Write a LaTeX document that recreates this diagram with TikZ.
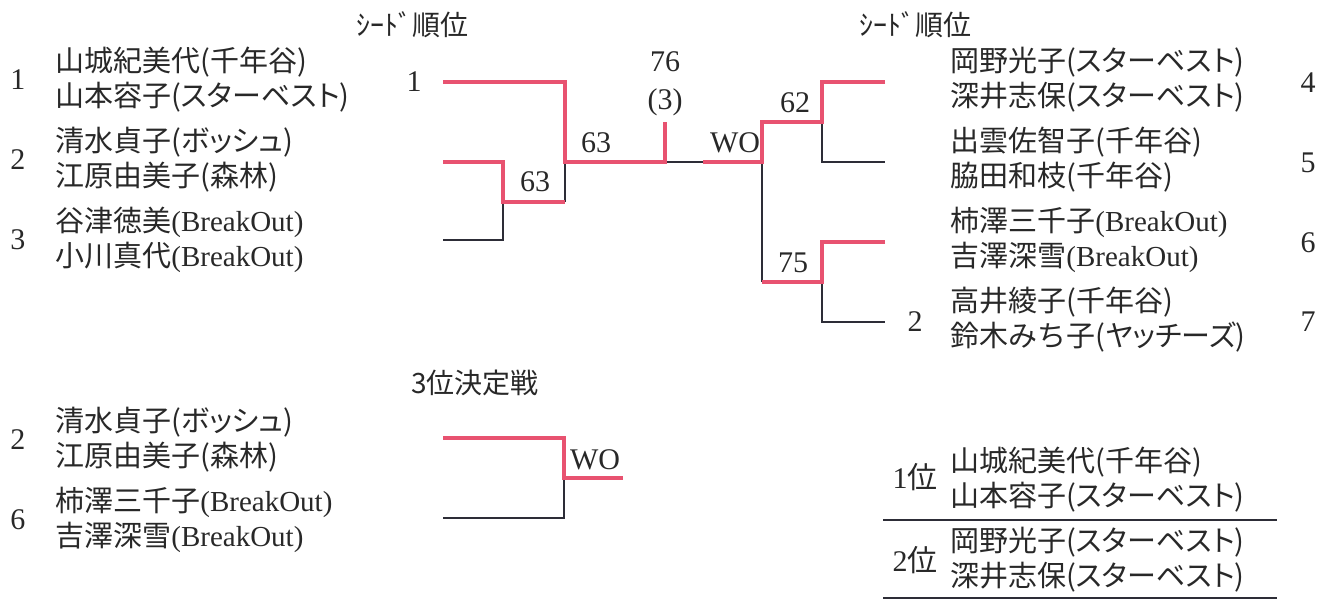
\documentclass[tikz,border=0pt]{standalone}
\usepackage{fontspec}
\setmainfont{Liberation Serif}
\newfontfamily\jp{Noto Sans CJK JP}
\newfontfamily\kana[RawFeature=+palt]{Noto Sans CJK JP}
\usetikzlibrary{positioning}
\definecolor{winred}{RGB}{232,82,112}
\definecolor{loseline}{RGB}{45,45,55}
\definecolor{inkgray}{RGB}{40,40,40}

\begin{document}
\begin{tikzpicture}[x=0.5pt,y=-0.5pt,
  win/.style={winred, line width=2pt},
  lose/.style={loseline, line width=1.1pt},
  rule/.style={loseline, line width=1.3pt},
  pair/.style={anchor=west, align=left, inner sep=0pt, text=inkgray,
    font=\jp\fontsize{14.5}{17.5}\selectfont},
  seed/.style={inner sep=0pt, text=inkgray, font=\fontsize{15}{16}\selectfont},
  score/.style={inner sep=0pt, text=inkgray, font=\fontsize{15}{16}\selectfont},
  title/.style={inner sep=0pt, text=inkgray, font=\jp\fontsize{14}{16}\selectfont}]
\useasboundingbox (0,0) rectangle (1320,600);
% Titles
\node[title] (seedL) at (412,25) {ｼｰﾄﾞ順位};
\node[title] (seedR) at (915,25) {ｼｰﾄﾞ順位};
\node[title] (third) at (475,383) {3位決定戦};
% Left pairs
\foreach \n/\y in {1/80, 2/160, 3/240}
  \node[seed] (ls\n) at (18,\y) {\n};
\node[pair] (lp1) at (55,80) {山城紀美代(千年谷)\\山本容子({\kana スターベスト})};
\node[pair] (lp2) at (55,160) {清水貞子({\kana ボッシュ})\\江原由美子(森林)};
\node[pair] (lp3) at (55,240) {谷津徳美{\rmfamily(BreakOut)}\\小川真代{\rmfamily(BreakOut)}};
% Right pairs
\foreach \n/\y in {4/83, 5/163, 6/243, 7/322}
  \node[seed] (rs\n) at (1308,\y) {\n};
\node[pair] (rp4) at (950,80) {岡野光子({\kana スターベスト})\\深井志保({\kana スターベスト})};
\node[pair] (rp5) at (950,160) {出雲佐智子(千年谷)\\脇田和枝(千年谷)};
\node[pair] (rp6) at (950,240) {柿澤三千子{\rmfamily(BreakOut)}\\吉澤深雪{\rmfamily(BreakOut)}};
\node[pair] (rp7) at (950,320) {高井綾子(千年谷)\\鈴木みち子({\kana ヤッチーズ})};
% Bracket points, left half
\coordinate (a1) at (443,82);
\coordinate (a2) at (443,162);
\coordinate (a3) at (443,240);
\coordinate (q2) at (503,162);
\coordinate (q3) at (503,240);
\coordinate (q23) at (503,202);
\coordinate (p1) at (565,82);
\coordinate (p23) at (565,202);
\coordinate (pL) at (565,162);
\coordinate (fL) at (665,162);
\coordinate (fT) at (665,122);
\coordinate (fR) at (703,162);
% Bracket points, right half
\coordinate (b4) at (885,82);
\coordinate (b5) at (885,162);
\coordinate (b6) at (885,242);
\coordinate (b7) at (885,322);
\coordinate (m4) at (822,82);
\coordinate (m45) at (822,122);
\coordinate (m5) at (822,162);
\coordinate (m6) at (822,242);
\coordinate (m67) at (822,282);
\coordinate (m7) at (822,322);
\coordinate (s45) at (762,122);
\coordinate (sR) at (762,162);
\coordinate (s67) at (762,282);
% Losing lines
\draw[lose] (a3) -- (q3) -- (q23);
\draw[lose] (p23) -- (pL);
\draw[lose] (fL) -- (fR);
\draw[lose] (m45) -- (m5) -- (b5);
\draw[lose] (sR) -- (s67);
\draw[lose] (m67) -- (m7) -- (b7);
% Winning lines
\draw[win] (a1) -- (p1) -- (pL) -- (fL) -- (fT);
\draw[win] (a2) -- (q2) -- (q23) -- (p23);
\draw[win] (b4) -- (m4) -- (m45) -- (s45) -- (sR) -- (fR);
\draw[win] (b6) -- (m6) -- (m67) -- (s67);
% Scores
\node[seed] (top1) at (414,82) {1};
\node[seed] (top2) at (915,322) {2};
\node[score] (sc63a) at (596,143) {63};
\node[score] (sc63b) at (535,182) {63};
\node[score] (sc76) at (665,62) {76};
\node[score] (sc3) at (665,102) {(3)};
\node[score] (scwo) at (735,143) {WO};
\node[score] (sc62) at (795,103) {62};
\node[score] (sc75) at (793,263) {75};
% 3rd place match
\node[seed] (ts2) at (18,440) {2};
\node[seed] (ts6) at (18,520) {6};
\node[pair] (tp2) at (55,440) {清水貞子({\kana ボッシュ})\\江原由美子(森林)};
\node[pair] (tp6) at (55,520) {柿澤三千子{\rmfamily(BreakOut)}\\吉澤深雪{\rmfamily(BreakOut)}};
\coordinate (t2) at (443,438);
\coordinate (t6) at (443,518);
\coordinate (u2) at (564,438);
\coordinate (u6) at (564,518);
\coordinate (uw) at (564,478);
\coordinate (uend) at (623,478);
\draw[lose] (t6) -- (u6) -- (uw);
\draw[win] (t2) -- (u2) -- (uw) -- (uend);
\node[score] (scwo3) at (595,460) {WO};
% Final standings
\node[seed] (rank1) at (915,477) {1{\jp 位}};
\node[pair] (win1) at (950,480) {山城紀美代(千年谷)\\山本容子({\kana スターベスト})};
\node[seed] (rank2) at (915,560) {2{\jp 位}};
\node[pair] (win2) at (950,560) {岡野光子({\kana スターベスト})\\深井志保({\kana スターベスト})};
\coordinate (r1a) at (883,520);
\coordinate (r1b) at (1277,520);
\coordinate (r2a) at (883,598);
\coordinate (r2b) at (1277,598);
\draw[rule] (r1a) -- (r1b);
\draw[rule] (r2a) -- (r2b);
\end{tikzpicture}
\end{document}
